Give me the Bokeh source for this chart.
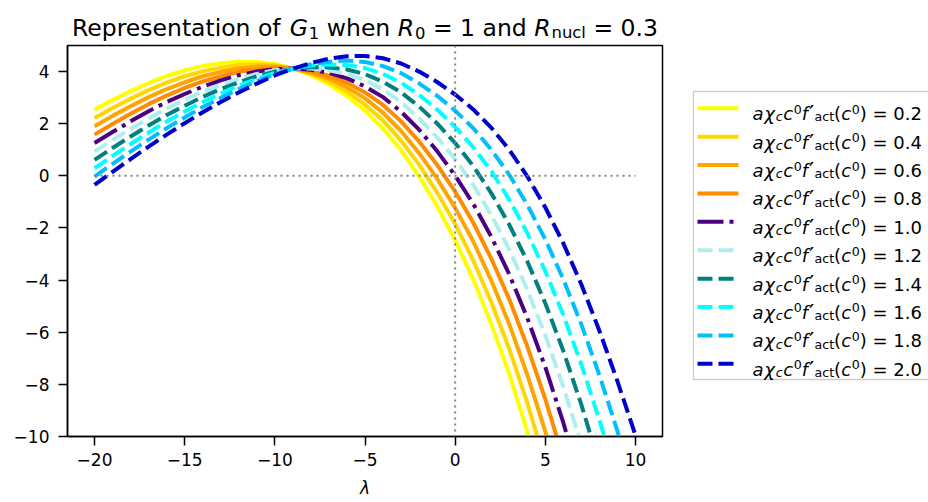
from bokeh.plotting import figure
from bokeh.models import Range1d, ColumnDataSource, FixedTicker, Span
from bokeh.layouts import column, row
from bokeh.embed import file_html
from bokeh.resources import INLINE
from bokeh.core.properties import value

# ---------------- data ----------------
lam = [-20, -19, -18, -17, -16, -15, -14, -13, -12, -11, -10, -9, -8, -7, -6, -5,
       -4, -3, -2, -1, 0, 1, 2, 3, 4, 5, 6, 7, 8, 9, 10]

k_labels = ["0.2", "0.4", "0.6", "0.8", "1.0", "1.2", "1.4", "1.6", "1.8", "2.0"]

g_02 = [2.54, 2.91, 3.25, 3.56, 3.83, 4.04, 4.21, 4.32, 4.38, 4.37, 4.29, 4.12, 3.86, 3.51, 3.06, 2.50,
        1.82, 0.98, -0.02, -1.17, -2.47, -3.96, -5.68, -7.60, -9.80, -12.25]
g_04 = [2.22, 2.60, 2.96, 3.29, 3.58, 3.82, 4.01, 4.15, 4.25, 4.28, 4.24, 4.12, 3.91, 3.62, 3.23, 2.73,
        2.12, 1.35, 0.43, -0.64, -1.85, -3.24, -4.84, -6.64, -8.71, -11.02]
g_06 = [1.90, 2.30, 2.67, 3.02, 3.33, 3.59, 3.82, 3.99, 4.12, 4.19, 4.19, 4.12, 3.96, 3.73, 3.40, 2.97,
        2.42, 1.72, 0.87, -0.11, -1.23, -2.51, -4.01, -5.69, -7.63, -9.80, -12.22]
g_08 = [1.58, 1.99, 2.38, 2.75, 3.08, 3.37, 3.62, 3.82, 3.99, 4.09, 4.14, 4.12, 4.02, 3.84, 3.57, 3.20,
        2.72, 2.09, 1.32, 0.42, -0.61, -1.79, -3.17, -4.73, -6.54, -8.57, -10.84]
g_10 = [1.26, 1.68, 2.09, 2.48, 2.83, 3.14, 3.42, 3.66, 3.86, 4.00, 4.09, 4.12, 4.07, 3.95, 3.74, 3.43,
        3.02, 2.46, 1.77, 0.95, 0.01, -1.07, -2.33, -3.78, -5.45, -7.34, -9.47, -11.85]
g_12 = [0.93, 1.38, 1.80, 2.20, 2.58, 2.92, 3.23, 3.49, 3.72, 3.91, 4.05, 4.11, 4.12, 4.05, 3.91, 3.67,
        3.31, 2.83, 2.21, 1.48, 0.64, -0.34, -1.50, -2.82, -4.37, -6.12, -8.09, -10.31]
g_14 = [0.61, 1.07, 1.51, 1.93, 2.33, 2.69, 3.03, 3.33, 3.59, 3.82, 4.00, 4.11, 4.17, 4.16, 4.08, 3.90,
        3.61, 3.20, 2.66, 2.01, 1.26, 0.38, -0.66, -1.87, -3.28, -4.89, -6.72, -8.78, -11.07]
g_16 = [0.29, 0.76, 1.22, 1.66, 2.08, 2.47, 2.83, 3.16, 3.46, 3.72, 3.95, 4.11, 4.23, 4.27, 4.25, 4.13,
        3.91, 3.57, 3.11, 2.54, 1.88, 1.10, 0.18, -0.91, -2.19, -3.66, -5.34, -7.24, -9.36, -11.69]
g_18 = [-0.03, 0.46, 0.93, 1.39, 1.83, 2.24, 2.64, 2.99, 3.33, 3.63, 3.90, 4.11, 4.28, 4.38, 4.42, 4.37,
        4.21, 3.94, 3.55, 3.07, 2.50, 1.83, 1.01, 0.04, -1.11, -2.44, -3.97, -5.70, -7.65, -9.79, -12.08]
g_20 = [-0.35, 0.15, 0.64, 1.12, 1.58, 2.02, 2.44, 2.83, 3.20, 3.54, 3.85, 4.11, 4.33, 4.49, 4.59, 4.60,
        4.51, 4.31, 4.00, 3.60, 3.12, 2.55, 1.85, 1.00, -0.02, -1.21, -2.59, -4.17, -5.94, -7.88, -9.95]

series = [g_02, g_04, g_06, g_08, g_10, g_12, g_14, g_16, g_18, g_20]

x_ticks = [-20, -15, -10, -5, 0, 5, 10]
x_tick_labels = ["\u221220", "\u221215", "\u221210", "\u22125", "0", "5", "10"]
y_ticks = [-10, -8, -6, -4, -2, 0, 2, 4]
y_tick_labels = ["\u221210", "\u22128", "\u22126", "\u22124", "\u22122", "0", "2", "4"]

hline_y = 0
hline_x0, hline_x1 = -20, 10
vline_x = 0

# ---------------- styles ----------------
colors = ["#ffff00", "#ffd700", "#ffa500", "#ff8c00", "#4b0082",
          "#afeeee", "#008080", "#00ffff", "#00bfff", "#0000cd"]
DASHED = "15 6"
DASHDOT = "26 6 4 6"
DOTTED = "2 4"
dashes = ["solid", "solid", "solid", "solid", DASHDOT,
          DASHED, DASHED, DASHED, DASHED, DASHED]
LW = 4
FONT = "DejaVu Sans"

# approximate DejaVu Sans advance widths (em)
W = {" ": 0.318, "R": 0.695, "e": 0.615, "p": 0.635, "r": 0.411, "s": 0.521, "n": 0.634,
     "t": 0.392, "a": 0.613, "i": 0.278, "o": 0.612, "f": 0.352, "G": 0.775, "w": 0.818,
     "h": 0.634, "=": 0.838, "d": 0.635, "u": 0.634, "c": 0.550, "l": 0.278, ".": 0.318,
     "(": 0.390, ")": 0.390, "\u03c7": 0.60, "\u2032": 0.24}
for dch in "0123456789":
    W[dch] = 0.636


def tw(s):
    return sum(W.get(ch, 0.6) for ch in s)


KINDS = {"n": (1.0, 0.0, "normal"), "i": (1.0, 0.0, "italic"),
         "sub": (0.7, 0.2, "normal"), "subi": (0.7, 0.2, "italic"),
         "sup": (0.7, -0.3, "normal"), "prime": (1.3, 0.02, "normal")}


def compose(pieces, x0, base, fs, groups):
    x = x0
    for txt, kind in pieces:
        sc, dy, st = KINDS[kind]
        size = fs * sc
        lead = len(txt) - len(txt.lstrip(" "))
        trail = len(txt) - len(txt.rstrip(" "))
        core = txt.strip(" ")
        x += lead * W[" "] * size
        key = (st, round(size, 2))
        g = groups.setdefault(key, {"x": [], "y": [], "t": []})
        g["x"].append(x)
        g["y"].append(base + dy * fs)
        g["t"].append(core)
        x += tw(core) * size + trail * W[" "] * size
        if st == "italic":
            x += 0.04 * size
    return x


def draw_groups(fig, groups):
    for (st, size), g in groups.items():
        fig.text(x="x", y="y", text="t", source=ColumnDataSource(g),
                 text_font=value(FONT), text_font_size=value(f"{size}px"),
                 text_font_style=st, text_color="black",
                 text_align="left", text_baseline="alphabetic")


TOTAL_W = 928
TITLE_H = 43
BODY_H = 459
MAIN_W = 692

# ---------------- title figure ----------------
tf = figure(width=TOTAL_W, height=TITLE_H, x_range=Range1d(0, TOTAL_W), y_range=Range1d(TITLE_H, 0),
            toolbar_location=None, output_backend="svg", min_border=0,
            x_axis_location=None, y_axis_location=None)
tf.grid.visible = False
tf.outline_line_color = None
title_pieces = [("Representation of ", "n"), ("G", "i"), ("1", "sub"), (" when ", "n"),
                ("R", "i"), ("0", "sub"), (" = 1 and ", "n"), ("R", "i"), ("nucl", "sub"),
                (" = 0.3", "n")]
TFS = 23.5
tot = compose(title_pieces, 0, 0, TFS, {})
tgroups = {}
compose(title_pieces, 364.5 - tot / 2, 27.5, TFS, tgroups)
draw_groups(tf, tgroups)

# ---------------- main figure ----------------
p = figure(width=MAIN_W, height=BODY_H, x_range=Range1d(-21.5, 11.5), y_range=Range1d(-10, 5),
           toolbar_location=None, output_backend="svg",
           min_border_left=67, min_border_right=30, min_border_top=2, min_border_bottom=66)
p.grid.visible = False
p.outline_line_color = "black"
p.outline_line_width = 1.5

for vals, col, dsh in zip(series, colors, dashes):
    p.line(lam[:len(vals)], vals, line_color=col, line_width=LW, line_dash=dsh)

p.segment(x0=[hline_x0], y0=[hline_y], x1=[hline_x1], y1=[hline_y],
          line_color="#808080", line_width=2, line_dash=DOTTED)
p.add_layout(Span(location=vline_x, dimension="height", line_color="#808080",
                  line_width=2, line_dash=DOTTED))

p.xaxis.ticker = FixedTicker(ticks=x_ticks)
p.xaxis.major_label_overrides = {t: l for t, l in zip(x_ticks, x_tick_labels)}
p.yaxis.ticker = FixedTicker(ticks=y_ticks)
p.yaxis.major_label_overrides = {t: l for t, l in zip(y_ticks, y_tick_labels)}
for ax in (p.xaxis, p.yaxis):
    ax.major_tick_out = 9
    ax.major_tick_in = 0
    ax.minor_tick_line_color = None
    ax.major_tick_line_width = 1.5
    ax.axis_line_width = 1.5
    ax.axis_line_color = "black"
    ax.major_tick_line_color = "black"
    ax.major_label_text_font = FONT
    ax.major_label_text_font_size = "17px"
    ax.major_label_text_color = "black"
p.xaxis.major_label_standoff = 7
p.yaxis.major_label_standoff = 9
p.xaxis.axis_label = "\u03bb"
p.xaxis.axis_label_text_font = FONT
p.xaxis.axis_label_text_font_style = "italic"
p.xaxis.axis_label_text_font_size = "17px"
p.xaxis.axis_label_text_color = "black"
p.xaxis.axis_label_standoff = 9

# ---------------- legend figure ----------------
LWID = TOTAL_W - MAIN_W
lf = figure(width=LWID, height=BODY_H, x_range=Range1d(0, LWID), y_range=Range1d(BODY_H, 0),
            toolbar_location=None, output_backend="svg", min_border=0,
            x_axis_location=None, y_axis_location=None)
lf.grid.visible = False
lf.outline_line_color = None
lf.quad(left=[0.8], right=[LWID + 40], top=[54], bottom=[392], fill_color="white",
        line_color="#cccccc", line_width=1.4)

LFS = 18
first_y, step_y = 73.7, 33.33
lgroups = {}
for i, (lab, col, dsh) in enumerate(zip(k_labels, colors, dashes)):
    yy = first_y + i * step_y
    lf.line([5, 46], [yy, yy], line_color=col, line_width=LW, line_dash=dsh)
    pieces = [("a", "i"), ("\u03c7", "i"), ("c", "subi"), ("c", "i"), ("0", "sup"),
              ("f", "i"), ("\u2032", "prime"), ("act", "sub"), ("(", "n"), ("c", "i"),
              ("0", "sup"), (")", "n"), (" = " + lab, "n")]
    compose(pieces, 60, yy + 6.5, LFS, lgroups)
draw_groups(lf, lgroups)

layout = column(tf, row(p, lf))
open("out.html", "w").write(file_html(layout, INLINE))
